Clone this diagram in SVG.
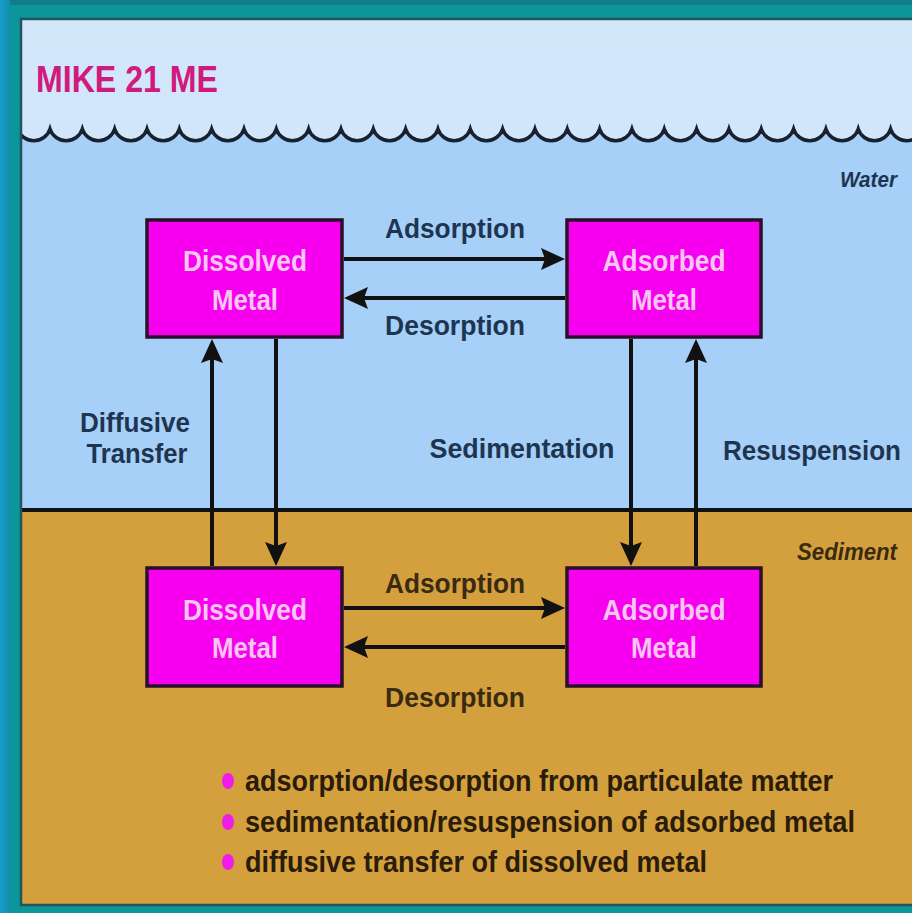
<svg xmlns="http://www.w3.org/2000/svg" width="912" height="913" viewBox="0 0 912 913">
  <defs>
    <style>
      .node rect { fill: #f600ef; stroke: #2a0e2a; stroke-width: 3.5; }
      .node text { font-family: "Liberation Sans", Arial, sans-serif; font-weight: bold; font-size: 29px; fill: #f9c6f2; text-anchor: middle; }
      .conn line { stroke: #111111; stroke-width: 4; }
      .lbl { font-family: "Liberation Sans", Arial, sans-serif; font-weight: bold; font-size: 28px; text-anchor: middle; }
      .water { fill: #1e3552; }
      .sed { fill: #3b2a12; }
      .zone { font-family: "Liberation Sans", Arial, sans-serif; font-weight: bold; font-style: italic; text-anchor: end; }
      .bullet { font-family: "Liberation Sans", Arial, sans-serif; font-weight: bold; font-size: 29px; fill: #2a1c0a; }
      .dot { fill: #ee1ee6; }
    </style>
    <marker id="head" viewBox="0 0 24 22" refX="16" refY="11" markerWidth="24" markerHeight="22" markerUnits="userSpaceOnUse" orient="auto">
      <path d="M0,0 L24,11 L0,22 L4,11 Z" fill="#111111"/>
    </marker>
    <clipPath id="panelClip">
      <rect x="21" y="19" width="891" height="886"/>
    </clipPath>
    <linearGradient id="sky" x1="0" y1="0" x2="0" y2="1">
      <stop offset="0" stop-color="#d3e7fb"/>
      <stop offset="1" stop-color="#c8e1f9"/>
    </linearGradient>
    <linearGradient id="edge" x1="0" y1="0" x2="1" y2="0">
      <stop offset="0" stop-color="#1a9ccc"/>
      <stop offset="1" stop-color="#118fa8"/>
    </linearGradient>
  </defs>

  <!-- frame -->
  <rect x="0" y="0" width="912" height="913" fill="#0b9699"/>
  <rect x="0" y="0" width="912" height="5" fill="#127b8c"/>
  <rect x="0" y="0" width="10" height="913" fill="url(#edge)"/>

  <!-- panel: sky, water, sediment -->
  <g clip-path="url(#panelClip)">
    <rect x="21" y="19" width="891" height="886" fill="url(#sky)"/>
    <path id="waterBody" fill="#a6d0f7" d="M17.67 129 a17 17 0 0 0 32.33 0 a17 17 0 0 0 32.33 0 a17 17 0 0 0 32.33 0 a17 17 0 0 0 32.33 0 a17 17 0 0 0 32.33 0 a17 17 0 0 0 32.33 0 a17 17 0 0 0 32.33 0 a17 17 0 0 0 32.33 0 a17 17 0 0 0 32.33 0 a17 17 0 0 0 32.33 0 a17 17 0 0 0 32.33 0 a17 17 0 0 0 32.33 0 a17 17 0 0 0 32.33 0 a17 17 0 0 0 32.33 0 a17 17 0 0 0 32.33 0 a17 17 0 0 0 32.33 0 a17 17 0 0 0 32.33 0 a17 17 0 0 0 32.33 0 a17 17 0 0 0 32.33 0 a17 17 0 0 0 32.33 0 a17 17 0 0 0 32.33 0 a17 17 0 0 0 32.33 0 a17 17 0 0 0 32.33 0 a17 17 0 0 0 32.33 0 a17 17 0 0 0 32.33 0 a17 17 0 0 0 32.33 0 a17 17 0 0 0 32.33 0 a17 17 0 0 0 32.33 0 L923 510 L17.67 510 Z"/>
    <path fill="none" stroke="#17222e" stroke-width="3.5" d="M17.67 129 a17 17 0 0 0 32.33 0 a17 17 0 0 0 32.33 0 a17 17 0 0 0 32.33 0 a17 17 0 0 0 32.33 0 a17 17 0 0 0 32.33 0 a17 17 0 0 0 32.33 0 a17 17 0 0 0 32.33 0 a17 17 0 0 0 32.33 0 a17 17 0 0 0 32.33 0 a17 17 0 0 0 32.33 0 a17 17 0 0 0 32.33 0 a17 17 0 0 0 32.33 0 a17 17 0 0 0 32.33 0 a17 17 0 0 0 32.33 0 a17 17 0 0 0 32.33 0 a17 17 0 0 0 32.33 0 a17 17 0 0 0 32.33 0 a17 17 0 0 0 32.33 0 a17 17 0 0 0 32.33 0 a17 17 0 0 0 32.33 0 a17 17 0 0 0 32.33 0 a17 17 0 0 0 32.33 0 a17 17 0 0 0 32.33 0 a17 17 0 0 0 32.33 0 a17 17 0 0 0 32.33 0 a17 17 0 0 0 32.33 0 a17 17 0 0 0 32.33 0 a17 17 0 0 0 32.33 0"/>
    <rect x="21" y="510" width="891" height="395" fill="#d4a03d"/>
    <line x1="21" y1="510" x2="912" y2="510" stroke="#111111" stroke-width="4"/>
  </g>
  <rect x="21" y="19" width="893" height="886" fill="none" stroke="#23565c" stroke-width="2.5"/>

  <!-- title and zone names -->
  <text x="36" y="92" font-family="Liberation Sans, Arial, sans-serif" font-weight="bold" font-size="37" fill="#d01a7e" textLength="182" lengthAdjust="spacingAndGlyphs">MIKE 21 ME</text>
  <text class="zone water" x="897" y="187" font-size="22" textLength="57" lengthAdjust="spacingAndGlyphs">Water</text>
  <text class="zone sed" x="897" y="560" font-size="23" textLength="100" lengthAdjust="spacingAndGlyphs">Sediment</text>

  <!-- connectors -->
  <g id="connectors" class="conn">
    <line x1="344" y1="259" x2="557" y2="259" marker-end="url(#head)"/>
    <line x1="565" y1="298" x2="352" y2="298" marker-end="url(#head)"/>
    <line x1="344" y1="608" x2="557" y2="608" marker-end="url(#head)"/>
    <line x1="565" y1="647" x2="352" y2="647" marker-end="url(#head)"/>
    <line x1="212" y1="566" x2="212" y2="347" marker-end="url(#head)"/>
    <line x1="276" y1="339" x2="276" y2="558" marker-end="url(#head)"/>
    <line x1="631" y1="339" x2="631" y2="558" marker-end="url(#head)"/>
    <line x1="696" y1="566" x2="696" y2="347" marker-end="url(#head)"/>
  </g>

  <!-- connector labels -->
  <g id="labels">
    <text class="lbl water" x="455" y="238" textLength="140" lengthAdjust="spacingAndGlyphs">Adsorption</text>
    <text class="lbl water" x="455" y="335" textLength="140" lengthAdjust="spacingAndGlyphs">Desorption</text>
    <text class="lbl sed" x="455" y="593" textLength="140" lengthAdjust="spacingAndGlyphs">Adsorption</text>
    <text class="lbl sed" x="455" y="707" textLength="140" lengthAdjust="spacingAndGlyphs">Desorption</text>
    <text class="lbl water" x="135" y="432" textLength="110" lengthAdjust="spacingAndGlyphs">Diffusive</text>
    <text class="lbl water" x="137" y="463" textLength="101" lengthAdjust="spacingAndGlyphs">Transfer</text>
    <text class="lbl water" x="522" y="458" textLength="185" lengthAdjust="spacingAndGlyphs">Sedimentation</text>
    <text class="lbl water" x="812" y="460" font-size="26" textLength="178" lengthAdjust="spacingAndGlyphs">Resuspension</text>
  </g>

  <!-- nodes -->
  <g id="water-dissolved" class="node">
    <rect x="147" y="220" width="195" height="117"/>
    <text x="245" y="271" textLength="124" lengthAdjust="spacingAndGlyphs">Dissolved</text>
    <text x="245" y="310" textLength="66" lengthAdjust="spacingAndGlyphs">Metal</text>
  </g>
  <g id="water-adsorbed" class="node">
    <rect x="567" y="220" width="194" height="117"/>
    <text x="664" y="271" textLength="123" lengthAdjust="spacingAndGlyphs">Adsorbed</text>
    <text x="664" y="310" textLength="66" lengthAdjust="spacingAndGlyphs">Metal</text>
  </g>
  <g id="sediment-dissolved" class="node">
    <rect x="147" y="568" width="195" height="118"/>
    <text x="245" y="620" textLength="124" lengthAdjust="spacingAndGlyphs">Dissolved</text>
    <text x="245" y="658" textLength="66" lengthAdjust="spacingAndGlyphs">Metal</text>
  </g>
  <g id="sediment-adsorbed" class="node">
    <rect x="567" y="568" width="194" height="118"/>
    <text x="664" y="620" textLength="123" lengthAdjust="spacingAndGlyphs">Adsorbed</text>
    <text x="664" y="658" textLength="66" lengthAdjust="spacingAndGlyphs">Metal</text>
  </g>

  <!-- process list -->
  <g id="legend">
    <ellipse class="dot" cx="228" cy="781" rx="6" ry="8"/>
    <ellipse class="dot" cx="228" cy="822" rx="6" ry="8"/>
    <ellipse class="dot" cx="228" cy="862" rx="6" ry="8"/>
    <text class="bullet" x="245" y="791" textLength="588" lengthAdjust="spacingAndGlyphs">adsorption/desorption from particulate matter</text>
    <text class="bullet" x="245" y="832" textLength="610" lengthAdjust="spacingAndGlyphs">sedimentation/resuspension of adsorbed metal</text>
    <text class="bullet" x="245" y="872" textLength="462" lengthAdjust="spacingAndGlyphs">diffusive transfer of dissolved metal</text>
  </g>
</svg>
